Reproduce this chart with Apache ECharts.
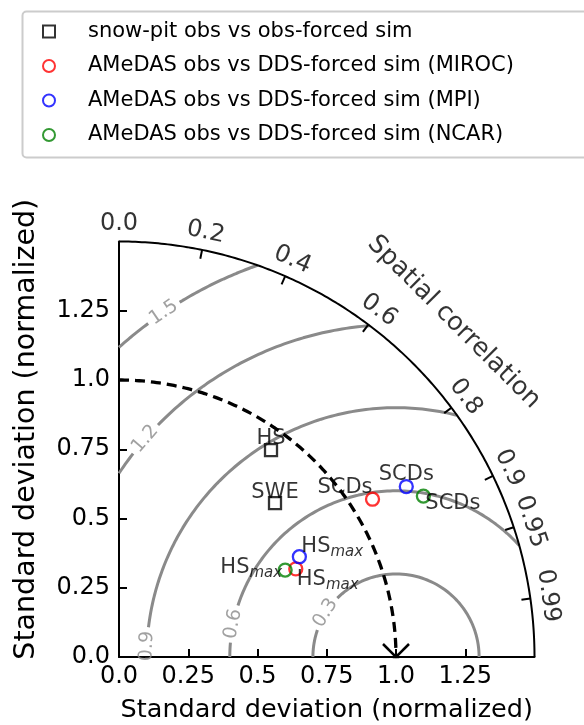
<!DOCTYPE html>
<html>
<head>
<meta charset="utf-8">
<title>Taylor diagram</title>
<script src="https://cdn.jsdelivr.net/npm/echarts@6/dist/echarts.min.js"></script>
</head>
<body style="margin:0">
<div id="main" style="width:584px;height:725px;"></div>
<script type="text/javascript">
// ---- data ----
var groupNames = [
    'snow-pit obs vs obs-forced sim',
    'AMeDAS obs vs DDS-forced sim (MIROC)',
    'AMeDAS obs vs DDS-forced sim (MPI)',
    'AMeDAS obs vs DDS-forced sim (NCAR)'
];
var pointNames = [['HS', 'SWE'], ['SCDs', 'HSmax'], ['SCDs', 'HSmax'], ['SCDs', 'HSmax']];
var pointStd = [[0.927, 0.791], [1.078, 0.713], [1.206, 0.745], [1.243, 0.677]];
var pointCorr = [[0.592, 0.712], [0.849, 0.895], [0.860, 0.874], [0.884, 0.886]];
var corrTicks = [0.2, 0.4, 0.6, 0.8, 0.9, 0.95, 0.99];
var corrLabels = [0.0, 0.2, 0.4, 0.6, 0.8, 0.9, 0.95, 0.99];
var rmsLevels = [0.3, 0.6, 0.9, 1.2, 1.5];
var stdTicks = [0, 0.25, 0.5, 0.75, 1.0, 1.25];
var stdMax = 1.5;
var refStd = 1.0;

// ---- layout / style ----
var font = 'DejaVu Sans';
var groupColors = ['#000000', '#ff0000', '#0000ff', '#008000'];
var gridLeft = 119, gridTop = 241.5, gridSize = 415.5;
var k = gridSize / stdMax; // px per unit
var rmsLabelAngle = [148, 168.5, 177.5, 139, 124]; // degrees around the reference point
var pointLabelStyle = [
    [{ align: 'center', offset: [0, -12] }, { align: 'center', offset: [0, -11] }],
    [{ align: 'right', offset: [0, -12] }, { align: 'left', offset: [1, 11] }],
    [{ align: 'center', offset: [0, -12] }, { align: 'left', offset: [2, -10] }],
    [{ align: 'left', offset: [2, 8] }, { align: 'right', offset: [-3, -2] }]
];
var gray = '#8a8a8a';

function toXY(std, corr) {
    var t = Math.acos(corr);
    return [std * Math.cos(t), std * Math.sin(t)];
}
function arc(cx, cy, r, a0, a1, n) {
    var pts = [];
    for (var i = 0; i <= n; i++) {
        var a = a0 + (a1 - a0) * i / n;
        pts.push([cx + r * Math.cos(a), cy + r * Math.sin(a)]);
    }
    return pts;
}
function lineSeries(data, color, width, type, clip) {
    return {
        type: 'line', data: data, showSymbol: false, symbol: 'none', silent: true,
        clip: clip !== false, animation: false,
        lineStyle: { color: color, width: width, type: type || 'solid' }, z: 2
    };
}

var series = [];

// centered RMS difference contours
rmsLevels.forEach(function (R, i) {
    var a0 = 0, a1 = Math.PI;
    if (refStd + R > stdMax) {
        var x0 = (stdMax * stdMax + refStd * refStd - R * R) / (2 * refStd);
        a0 = Math.atan2(Math.sqrt(stdMax * stdMax - x0 * x0), x0 - refStd);
    }
    if (R > refStd) a1 = Math.atan2(Math.sqrt(R * R - refStd * refStd), -refStd);
    var aL = rmsLabelAngle[i] * Math.PI / 180;
    var h = 19 / (R * k);
    series.push(lineSeries(arc(refStd, 0, R, a0, aL - h, 120), gray, 3));
    series.push(lineSeries(arc(refStd, 0, R, aL + h, a1, 120), gray, 3));
    series.push({
        type: 'scatter', symbolSize: 0, silent: true, clip: false, animation: false, z: 3,
        data: [{ value: [refStd + R * Math.cos(aL), R * Math.sin(aL)], label: { rotate: rmsLabelAngle[i] - 90 } }],
        label: { show: true, position: 'inside', formatter: String(R), color: gray, fontSize: 19, fontFamily: font }
    });
});

// reference std circle (dashed)
series.push(lineSeries(arc(0, 0, refStd, Math.PI / 2, 0, 150), '#000', 3.3, [10, 6]));
// outer arc
series.push(lineSeries(arc(0, 0, stdMax, 0, Math.PI / 2, 200), '#000', 2, 'solid', false));
// correlation ticks
corrTicks.forEach(function (c) {
    var t = Math.acos(c), r1 = stdMax - 9 / k;
    series.push(lineSeries([[stdMax * Math.cos(t), stdMax * Math.sin(t)], [r1 * Math.cos(t), r1 * Math.sin(t)]], '#000', 2, 'solid', false));
});
// correlation labels + title
var rl = stdMax + 18 / k;
var corrData = corrLabels.map(function (c) {
    var t = Math.acos(c);
    return {
        value: [rl * Math.cos(t), rl * Math.sin(t)],
        label: { formatter: c === 0 ? '0.0' : String(c), rotate: t * 180 / Math.PI - 90 }
    };
});
var rt = stdMax + 58 / k;
corrData.push({
    value: [rt * Math.cos(Math.PI / 4), rt * Math.sin(Math.PI / 4)],
    label: { formatter: 'Spatial correlation', rotate: -45, fontSize: 25.5 }
});
series.push({
    type: 'scatter', symbolSize: 0, silent: true, clip: false, animation: false,
    data: corrData,
    label: { show: true, position: 'inside', color: '#000', fontSize: 24, fontFamily: font }
});
// reference point marker
var d = 13 / k;
series.push(lineSeries([[refStd - d, -d], [refStd + d, d]], '#000', 2.5));
series.push(lineSeries([[refStd - d, d], [refStd + d, -d]], '#000', 2.5));

// observations
groupNames.forEach(function (name, g) {
    series.push({
        name: name, type: 'scatter', clip: false, animation: false, z: 5,
        symbol: g === 0 ? 'rect' : 'circle', symbolSize: g === 0 ? 12 : 13,
        itemStyle: { color: 'rgba(0,0,0,0)', borderColor: groupColors[g], borderWidth: 2.3 },
        data: pointNames[g].map(function (p, i) {
            var st = pointLabelStyle[g][i];
            return {
                name: p, value: toXY(pointStd[g][i], pointCorr[g][i]),
                label: { align: st.align, offset: st.offset }
            };
        }),
        label: {
            show: true, position: 'inside', color: '#000', fontSize: 21, fontFamily: font,
            formatter: function (prm) {
                return prm.name === 'HSmax' ? '{n|HS}{s|max}' : prm.name;
            },
            rich: {
                n: { fontSize: 21, lineHeight: 26, fontFamily: font, color: '#000' },
                s: { fontSize: 15, lineHeight: 12, fontStyle: 'italic', verticalAlign: 'bottom', fontFamily: font, color: '#000' }
            }
        }
    });
});

function tickFmt(v) { return v === 0 ? '0.0' : v === 1 ? '1.0' : String(v); }
function stdAxis(isX) {
    return {
        type: 'value', min: 0, max: stdMax, interval: 0.25,
        splitLine: { show: false },
        axisLine: { lineStyle: { color: '#000', width: 2 } },
        axisTick: { inside: true, length: 8, lineStyle: { color: '#000', width: 2 }, customValues: stdTicks.slice(1) },
        axisLabel: { customValues: stdTicks, formatter: tickFmt, color: '#000', fontSize: 24, fontFamily: font, margin: isX ? 8 : 9 },
        name: 'Standard deviation (normalized)',
        nameLocation: 'middle',
        nameGap: isX ? 40 : 78,
        nameTextStyle: { color: '#000', fontSize: isX ? 25.5 : 28.5, fontFamily: font, padding: isX ? 0 : [0, 0, 0, 40] }
    };
}

var myChart = echarts.init(document.getElementById('main'));
myChart.setOption({
    animation: false,
    backgroundColor: '#fff',
    textStyle: { fontFamily: font },
    grid: { left: gridLeft, top: gridTop, width: gridSize, height: gridSize, outerBoundsMode: 'none' },
    xAxis: stdAxis(true),
    yAxis: stdAxis(false),
    legend: {
        orient: 'vertical', left: 42, top: 21, padding: 0,
        itemWidth: 12, itemHeight: 12, itemGap: 13.5,
        textStyle: { color: '#000', fontSize: 21, fontFamily: font, padding: [0, 0, 0, 28] },
        data: groupNames.map(function (n, g) {
            return { name: n, icon: g === 0 ? 'rect' : 'circle' };
        })
    },
    graphic: [{
        type: 'rect', left: 20, top: 9, silent: true,
        shape: { width: 620, height: 146, r: 4 },
        style: { fill: 'none', stroke: '#cccccc', lineWidth: 2 }
    }],
    series: series
});
</script>
</body>
</html>
